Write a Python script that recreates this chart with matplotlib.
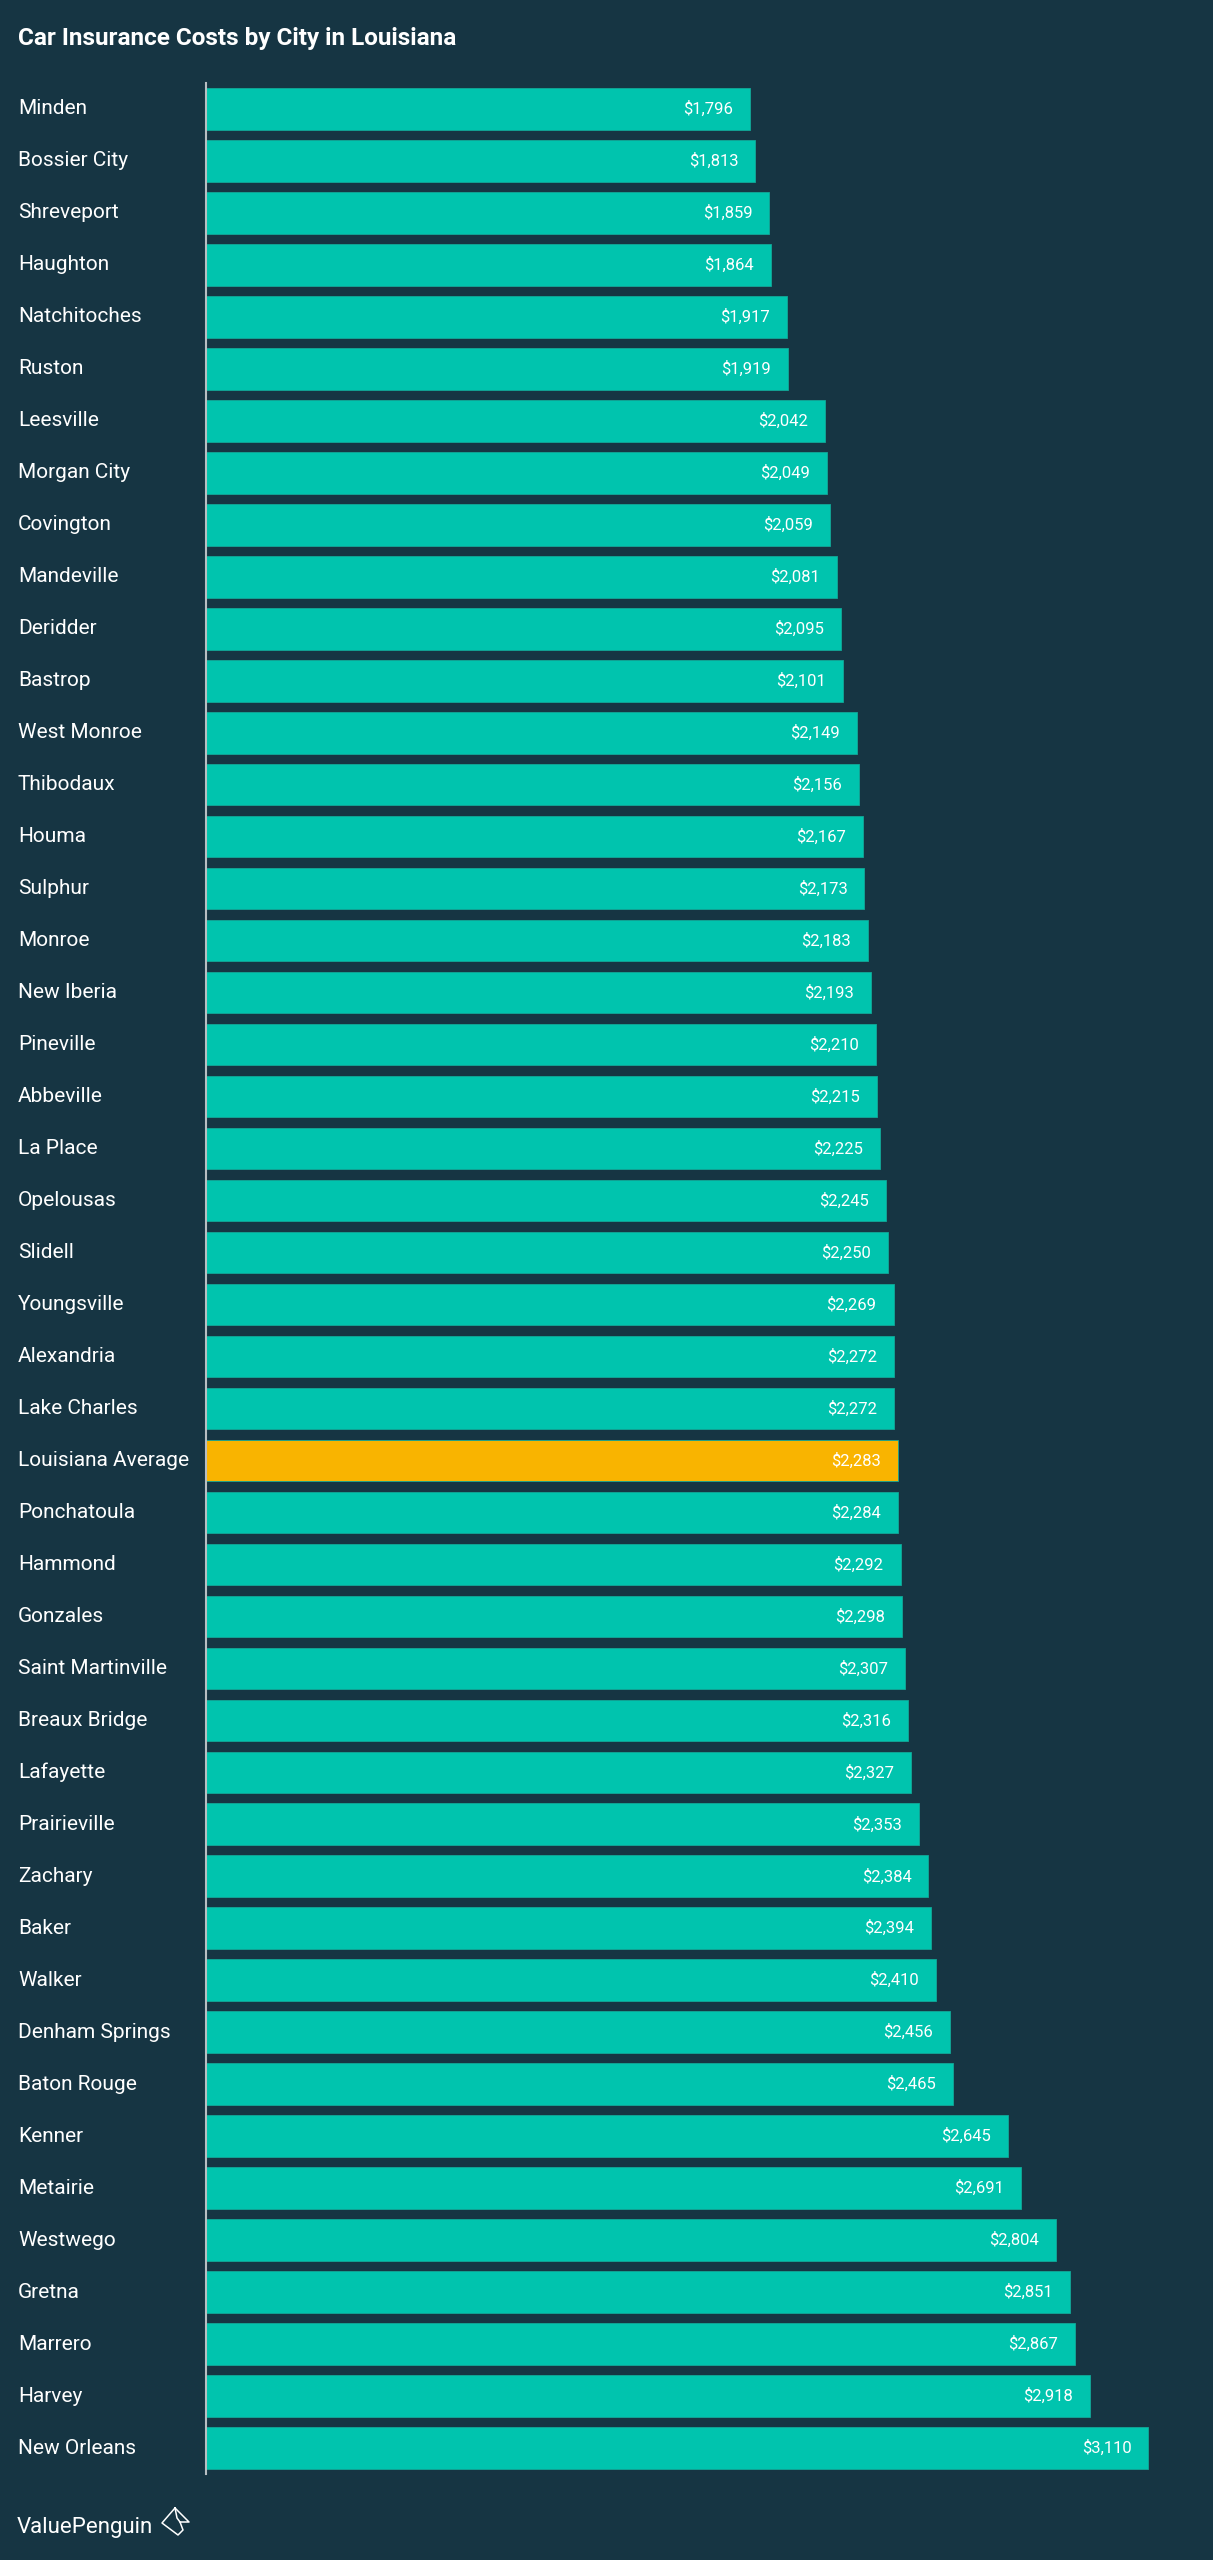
import numpy as np
import matplotlib.pyplot as plt
from matplotlib.lines import Line2D

cities = ["Minden", "Bossier City", "Shreveport", "Haughton", "Natchitoches", "Ruston",
          "Leesville", "Morgan City", "Covington", "Mandeville", "Deridder", "Bastrop",
          "West Monroe", "Thibodaux", "Houma", "Sulphur", "Monroe", "New Iberia",
          "Pineville", "Abbeville", "La Place", "Opelousas", "Slidell", "Youngsville",
          "Alexandria", "Lake Charles", "Louisiana Average", "Ponchatoula", "Hammond",
          "Gonzales", "Saint Martinville", "Breaux Bridge", "Lafayette", "Prairieville",
          "Zachary", "Baker", "Walker", "Denham Springs", "Baton Rouge", "Kenner",
          "Metairie", "Westwego", "Gretna", "Marrero", "Harvey", "New Orleans"]
costs = [1796, 1813, 1859, 1864, 1917, 1919, 2042, 2049, 2059, 2081, 2095, 2101,
         2149, 2156, 2167, 2173, 2183, 2193, 2210, 2215, 2225, 2245, 2250, 2269,
         2272, 2272, 2283, 2284, 2292, 2298, 2307, 2316, 2327, 2353, 2384, 2394,
         2410, 2456, 2465, 2645, 2691, 2804, 2851, 2867, 2918, 3110]
highlight = "Louisiana Average"

bg = "#163543"
teal = "#00c4ae"
gold = "#f9b400"

plt.rcParams['font.family'] = ['Roboto', 'DejaVu Sans']

W, H = 1213, 2560
fig = plt.figure(figsize=(W / 100, H / 100), dpi=100, facecolor=bg)
ax = fig.add_axes([206 / W, 1 - 2474 / H, 1000 / W, 2391 / H])
ax.set_facecolor(bg)

y = np.arange(len(cities))
colors = [gold if c == highlight else teal for c in cities]
ax.barh(y, costs, height=0.8, color=colors, edgecolor="#12a898", linewidth=0.6)

for yi, v in zip(y, costs):
    ax.text(v - 56, yi, "${:,}".format(v), ha="right", va="center",
            color="white", fontsize=12)

ax.set_xlim(0, 3300)
ax.set_ylim(len(cities) - 0.5, -0.5)
ax.set_xticks([])
ax.set_yticks([])
for s in ["top", "right", "bottom"]:
    ax.spines[s].set_visible(False)
ax.spines["left"].set_color("#b8bec2")
ax.spines["left"].set_linewidth(1.5)

# city names at the far left of the figure
for yi, c in zip(y, cities):
    ax.annotate(c, xy=(0, yi), xycoords=("figure fraction", "data"),
                xytext=(18 / W, 0), textcoords=("figure fraction", "offset points"),
                ha="left", va="center", color="white", fontsize=15)

fig.text(18 / W, 1 - 38 / H, "Car Insurance Costs by City in Louisiana",
         color="white", fontsize=17.5, fontweight="semibold", ha="left", va="center")

fig.text(17 / W, 1 - 2527 / H, "ValuePenguin", color="white", fontsize=16,
         ha="left", va="center")

# small logo outline
ix = (np.array([170, 184, 175, 178, 173, 157, 170]) + 5) / W
iy = 1 - np.array([2508, 2522, 2522, 2530, 2535, 2523, 2508]) / H
fig.add_artist(Line2D(ix, iy, color="white", lw=1.1, transform=fig.transFigure))
fig.add_artist(Line2D((np.array([170, 172, 175]) + 5) / W, 1 - np.array([2508, 2518, 2522]) / H,
                      color="white", lw=1.1, transform=fig.transFigure))

fig.savefig("out.png", dpi=100, facecolor=bg)
